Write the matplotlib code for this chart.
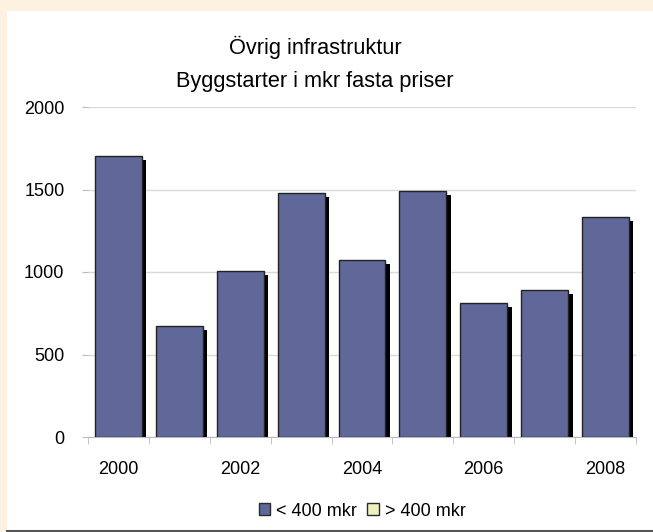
import matplotlib

matplotlib.use("Agg")
import matplotlib.pyplot as plt
from matplotlib.patches import Patch, Rectangle
from matplotlib.lines import Line2D
import numpy as np

plt.rcParams["font.family"] = ["Liberation Sans", "DejaVu Sans"]

years = [2000, 2001, 2002, 2003, 2004, 2005, 2006, 2007, 2008]
small = [1703, 670, 1004, 1481, 1075, 1491, 815, 889, 1332]   # < 400 mkr
large = [0, 0, 0, 0, 0, 0, 0, 0, 0]                              # > 400 mkr
series_names = ["< 400 mkr", "> 400 mkr"]
series_colors = ["#60689A", "#EEF0C0"]
yticks = [0, 500, 1000, 1500, 2000]

fig = plt.figure(figsize=(6.53, 5.32), dpi=100)
fig.patch.set_facecolor("#FDF2E2")

# white chart panel with dark bottom edge
fig.patches.append(Rectangle((7 / 653, 2 / 532), 1, 519 / 532, transform=fig.transFigure,
                             facecolor="white", edgecolor="none", zorder=-5))
fig.lines.append(Line2D([7 / 653, 1], [1.5 / 532, 1.5 / 532], transform=fig.transFigure,
                        color="#555555", lw=1.5))

ax = fig.add_axes([88 / 653, 1 - 437 / 532, 548 / 653, 330 / 532])
ax.set_facecolor("none")

x = np.arange(len(years))
w = 0.77
dx = 4.5 / 60.9        # shadow offset in data units (~4 px)
dy = 4 / 0.165

shadow_h = [max(v - dy, 0) for v in small]
ax.bar(x + dx, shadow_h, width=w, color="black", zorder=2)
ax.bar(x, small, width=w, color=series_colors[0], edgecolor="#222222", lw=1.0, zorder=3)
ax.bar(x, large, bottom=small, width=w, color=series_colors[1], lw=0, zorder=3)

ax.set_xlim(-0.5, len(years) - 0.5)
ax.set_ylim(0, 2000)
ax.set_yticks(yticks)
ax.set_yticklabels([str(t) for t in yticks], fontsize=13)
ax.yaxis.grid(True, color="#d9d9d9", lw=1)
ax.set_axisbelow(True)
ax.tick_params(axis="y", length=4, color="#bbbbbb", pad=13)

ax.set_xticks(x[::2])
ax.set_xticklabels([str(y) for y in years[::2]], fontsize=13)
ax.set_xticks(np.arange(len(years) + 1) - 0.5, minor=True)
ax.tick_params(axis="x", which="major", length=0, pad=17)
ax.tick_params(axis="x", which="minor", length=5, color="#bbbbbb")

for s in ["top", "right", "left"]:
    ax.spines[s].set_visible(False)
ax.spines["bottom"].set_color("#bbbbbb")

fig.text(315 / 653, 1 - 47 / 532, "Övrig infrastruktur", ha="center", va="center", fontsize=15.7)
fig.text(315 / 653, 1 - 81 / 532, "Byggstarter i mkr fasta priser", ha="center", va="center",
         fontsize=15.7)

handles = [Patch(facecolor=c, edgecolor="#2a2a2a", lw=1) for c in series_colors]
fig.legend(handles, series_names, loc="center", bbox_to_anchor=(362 / 653, 1 - 511 / 532),
           ncol=2, frameon=False, fontsize=13, handlelength=0.65, handleheight=0.65,
           handletextpad=0.3, columnspacing=0.6)

fig.savefig("out.png", dpi=100, facecolor=fig.get_facecolor())
